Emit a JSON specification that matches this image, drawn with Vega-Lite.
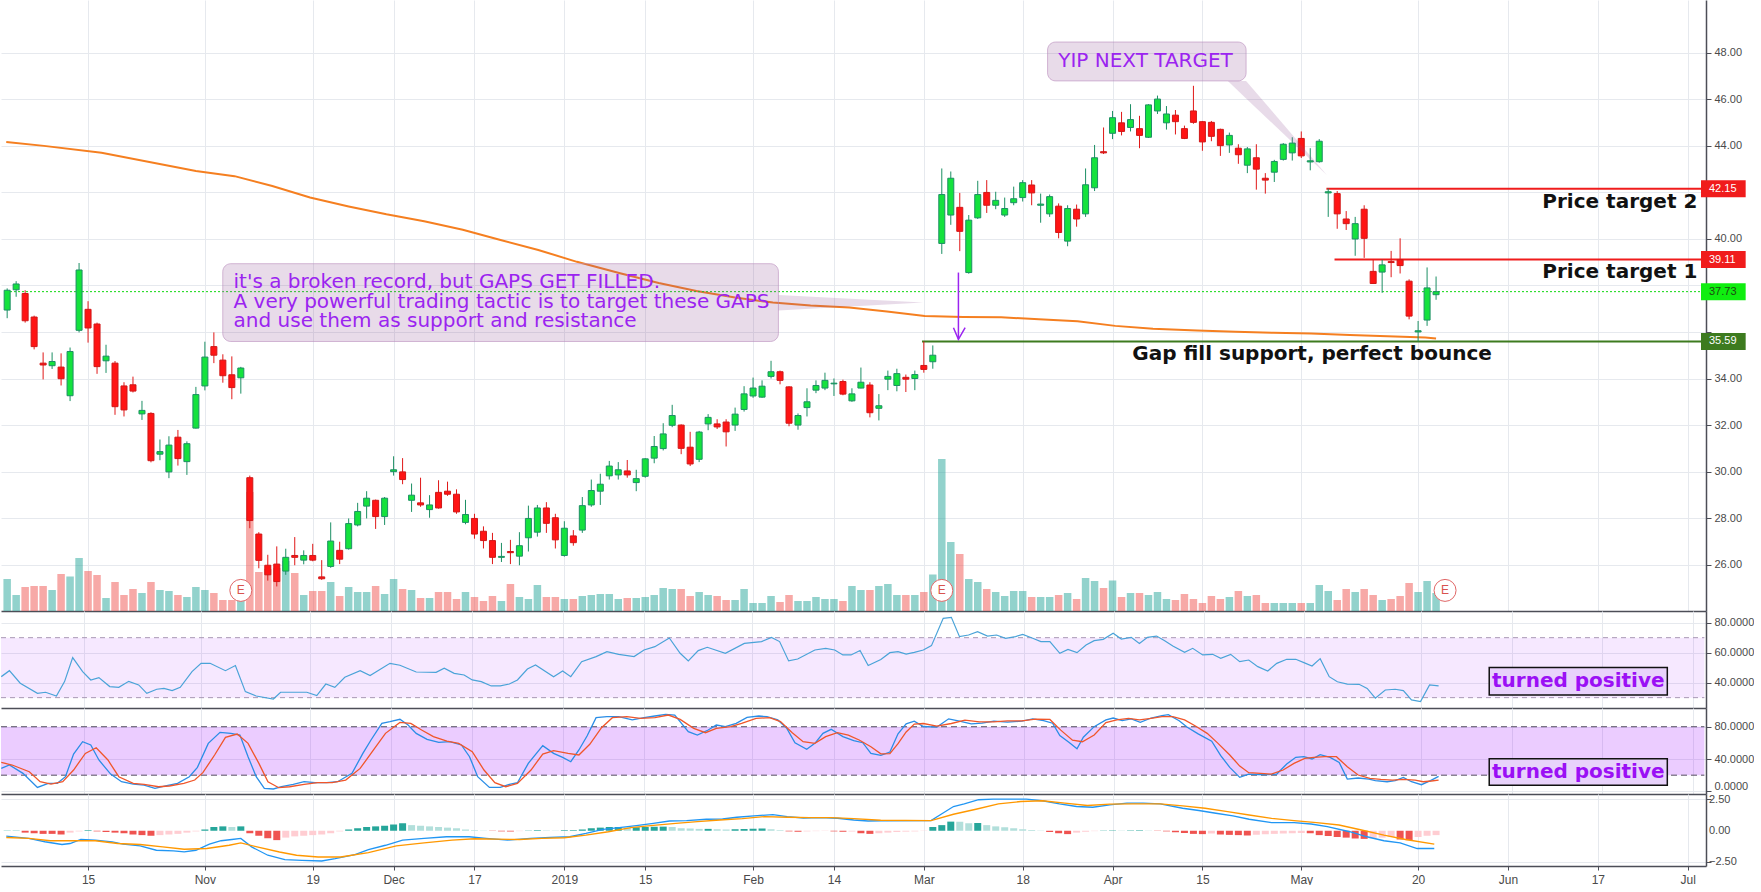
{
"$schema":"https://vega.github.io/schema/vega-lite/v6.json",
"background":"#ffffff",
"padding":0,
"spacing":0,
"bounds":"flush",
"config":{"view":{"stroke":null},"axis":{"labelFont":"Liberation Sans","labelFontSize":11,"labelColor":"#4a4a4a","tickColor":"#4c4e57","domainColor":"#4c4e57","gridColor":"#e6e9ee"},"text":{"font":"DejaVu Sans"}},
"resolve":{"scale":{"x":"independent","y":"independent","color":"independent"}},
"datasets":{
"ohlc":[
{"i":-9,"o":36.94,"h":37.87,"l":36.59,"c":37.79,"v":3.2,"m":0.02},
{"i":-8,"o":37.81,"h":38.18,"l":37.51,"c":38.06,"v":1.6,"m":0.02},
{"i":-7,"o":37.65,"h":37.79,"l":36.4,"c":36.48,"v":2.4,"m":-0.15},
{"i":-6,"o":36.64,"h":36.7,"l":35.25,"c":35.37,"v":2.5,"m":-0.2},
{"i":-5,"o":34.66,"h":35.12,"l":33.96,"c":34.58,"v":2.5,"m":-0.25},
{"i":-4,"o":34.55,"h":35.12,"l":34.41,"c":34.73,"v":2.1,"m":-0.25},
{"i":-3,"o":34.49,"h":35.08,"l":33.7,"c":33.99,"v":3.7,"m":-0.3},
{"i":-2,"o":33.26,"h":35.33,"l":33.03,"c":35.16,"v":3.45,"m":-0.15},
{"i":-1,"o":36.07,"h":38.96,"l":35.98,"c":38.66,"v":5.3,"m":-0.05},
{"i":0,"o":36.97,"h":37.32,"l":35.54,"c":36.17,"v":4.0,"m":0.05},
{"i":1,"o":36.34,"h":36.4,"l":34.2,"c":34.51,"v":3.6,"m":-0.05},
{"i":2,"o":34.76,"h":35.45,"l":34.24,"c":34.96,"v":1.3,"m":-0.1},
{"i":3,"o":34.66,"h":34.75,"l":32.44,"c":32.79,"v":2.9,"m":-0.15},
{"i":4,"o":33.68,"h":33.84,"l":32.37,"c":32.65,"v":1.6,"m":-0.2},
{"i":5,"o":33.73,"h":34.08,"l":33.4,"c":33.46,"v":2.2,"m":-0.3},
{"i":6,"o":32.48,"h":33.04,"l":32.22,"c":32.63,"v":1.8,"m":-0.35},
{"i":7,"o":32.5,"h":32.55,"l":30.4,"c":30.47,"v":2.9,"m":-0.4},
{"i":8,"o":30.75,"h":31.38,"l":30.49,"c":30.86,"v":2.1,"m":-0.35},
{"i":9,"o":29.99,"h":31.52,"l":29.72,"c":31.14,"v":2.0,"m":-0.3},
{"i":10,"o":31.48,"h":31.79,"l":30.26,"c":30.56,"v":1.6,"m":-0.25},
{"i":11,"o":30.43,"h":31.3,"l":29.86,"c":31.2,"v":1.4,"m":-0.15},
{"i":12,"o":31.87,"h":33.64,"l":31.85,"c":33.31,"v":2.4,"m":-0.05},
{"i":13,"o":33.68,"h":35.58,"l":33.49,"c":34.92,"v":2.1,"m":0.1},
{"i":14,"o":35.37,"h":35.98,"l":34.66,"c":35.0,"v":1.8,"m":0.3},
{"i":15,"o":34.79,"h":35.04,"l":33.82,"c":34.12,"v":1.1,"m":0.35},
{"i":16,"o":34.16,"h":34.95,"l":33.11,"c":33.61,"v":1.1,"m":0.3},
{"i":17,"o":34.03,"h":34.5,"l":33.35,"c":34.45,"v":2.2,"m":0.35},
{"i":18,"o":29.74,"h":29.83,"l":27.57,"c":27.9,"v":11.9,"m":-0.2},
{"i":19,"o":27.32,"h":27.4,"l":25.85,"c":26.19,"v":3.9,"m":-0.4},
{"i":20,"o":25.98,"h":26.43,"l":25.32,"c":25.57,"v":4.2,"m":-0.6},
{"i":21,"o":26.03,"h":26.79,"l":25.07,"c":25.28,"v":4.3,"m":-0.75},
{"i":22,"o":25.73,"h":26.69,"l":25.57,"c":26.32,"v":5.0,"m":-0.55},
{"i":23,"o":26.4,"h":27.19,"l":25.98,"c":26.32,"v":3.8,"m":-0.45},
{"i":24,"o":26.2,"h":26.62,"l":26.02,"c":26.4,"v":1.6,"m":-0.4},
{"i":25,"o":26.4,"h":26.9,"l":26.15,"c":26.2,"v":2.0,"m":-0.35},
{"i":26,"o":25.48,"h":26.2,"l":25.35,"c":25.4,"v":2.0,"m":-0.3},
{"i":27,"o":25.93,"h":27.82,"l":25.87,"c":27.02,"v":2.9,"m":-0.2},
{"i":28,"o":26.62,"h":26.99,"l":26.03,"c":26.24,"v":1.5,"m":-0.05},
{"i":29,"o":26.69,"h":27.99,"l":26.65,"c":27.77,"v":2.4,"m":0.1},
{"i":30,"o":27.71,"h":28.66,"l":27.65,"c":28.29,"v":1.9,"m":0.2},
{"i":31,"o":28.52,"h":29.16,"l":27.99,"c":28.86,"v":1.9,"m":0.3},
{"i":32,"o":28.77,"h":28.8,"l":27.54,"c":28.07,"v":2.5,"m":0.35},
{"i":33,"o":28.07,"h":28.91,"l":27.71,"c":28.86,"v":1.7,"m":0.4},
{"i":34,"o":30.0,"h":30.66,"l":29.83,"c":30.08,"v":3.2,"m":0.5},
{"i":35,"o":29.99,"h":30.58,"l":29.46,"c":29.66,"v":2.2,"m":0.6},
{"i":36,"o":28.77,"h":29.49,"l":28.27,"c":28.99,"v":2.1,"m":0.45},
{"i":37,"o":28.66,"h":29.74,"l":28.49,"c":28.57,"v":1.3,"m":0.4},
{"i":38,"o":28.37,"h":28.99,"l":28.02,"c":28.57,"v":1.3,"m":0.35},
{"i":39,"o":29.11,"h":29.63,"l":28.41,"c":28.44,"v":1.9,"m":0.3},
{"i":40,"o":29.16,"h":29.57,"l":28.96,"c":29.03,"v":1.9,"m":0.25},
{"i":41,"o":29.03,"h":29.24,"l":28.19,"c":28.27,"v":1.2,"m":0.2},
{"i":42,"o":27.82,"h":28.79,"l":27.74,"c":28.16,"v":1.9,"m":0.1},
{"i":43,"o":27.99,"h":28.19,"l":27.12,"c":27.32,"v":1.4,"m":0.05},
{"i":44,"o":27.44,"h":27.65,"l":26.7,"c":27.04,"v":1.0,"m":0.02},
{"i":45,"o":27.04,"h":27.37,"l":26.03,"c":26.32,"v":1.5,"m":-0.02},
{"i":46,"o":26.32,"h":26.94,"l":26.12,"c":26.36,"v":1.0,"m":-0.05},
{"i":47,"o":26.57,"h":27.07,"l":26.03,"c":26.52,"v":2.7,"m":-0.05},
{"i":48,"o":26.37,"h":27.4,"l":25.98,"c":26.82,"v":1.4,"m":-0.03},
{"i":49,"o":27.16,"h":28.54,"l":26.57,"c":27.99,"v":1.2,"m":0.02},
{"i":50,"o":27.4,"h":28.57,"l":27.21,"c":28.44,"v":2.6,"m":0.05},
{"i":51,"o":28.44,"h":28.69,"l":27.37,"c":27.78,"v":1.4,"m":0.03},
{"i":52,"o":28.02,"h":28.19,"l":26.7,"c":27.07,"v":1.4,"m":0.02},
{"i":53,"o":26.4,"h":27.87,"l":26.35,"c":27.57,"v":1.2,"m":0.05},
{"i":54,"o":27.24,"h":27.49,"l":26.82,"c":26.95,"v":1.2,"m":0.05},
{"i":55,"o":27.49,"h":28.91,"l":27.37,"c":28.54,"v":1.5,"m":0.1},
{"i":56,"o":28.57,"h":29.66,"l":28.49,"c":29.19,"v":1.6,"m":0.2},
{"i":57,"o":29.16,"h":29.91,"l":28.57,"c":29.46,"v":1.7,"m":0.25},
{"i":58,"o":29.82,"h":30.46,"l":29.66,"c":30.24,"v":1.7,"m":0.3},
{"i":59,"o":29.86,"h":30.41,"l":29.66,"c":30.08,"v":1.2,"m":0.3},
{"i":60,"o":30.03,"h":30.5,"l":29.74,"c":29.86,"v":1.3,"m":0.25},
{"i":61,"o":29.53,"h":30.08,"l":29.16,"c":29.7,"v":1.3,"m":0.28},
{"i":62,"o":29.8,"h":30.58,"l":29.74,"c":30.55,"v":1.4,"m":0.3},
{"i":63,"o":30.58,"h":31.53,"l":30.36,"c":31.08,"v":1.6,"m":0.32},
{"i":64,"o":30.99,"h":32.08,"l":30.91,"c":31.62,"v":2.3,"m":0.33},
{"i":65,"o":31.99,"h":32.87,"l":31.91,"c":32.41,"v":2.2,"m":0.3},
{"i":66,"o":32.0,"h":32.03,"l":30.75,"c":31.0,"v":2.2,"m":0.2},
{"i":67,"o":31.05,"h":31.71,"l":30.24,"c":30.33,"v":1.5,"m":0.18},
{"i":68,"o":30.53,"h":31.75,"l":30.41,"c":31.7,"v":1.9,"m":0.15},
{"i":69,"o":32.05,"h":32.47,"l":31.78,"c":32.33,"v":1.6,"m":0.15},
{"i":70,"o":32.05,"h":32.25,"l":31.83,"c":31.92,"v":1.5,"m":0.12},
{"i":71,"o":32.13,"h":32.25,"l":31.08,"c":31.71,"v":1.1,"m":0.1},
{"i":72,"o":32.0,"h":32.75,"l":31.75,"c":32.47,"v":1.1,"m":0.12},
{"i":73,"o":32.67,"h":33.67,"l":32.58,"c":33.34,"v":2.2,"m":0.14},
{"i":74,"o":33.25,"h":34.04,"l":33.17,"c":33.59,"v":0.8,"m":0.16},
{"i":75,"o":33.2,"h":33.92,"l":33.17,"c":33.67,"v":0.8,"m":0.18},
{"i":76,"o":34.09,"h":34.76,"l":34.0,"c":34.29,"v":1.5,"m":0.12},
{"i":77,"o":34.29,"h":34.34,"l":33.75,"c":33.92,"v":0.9,"m":0.05},
{"i":78,"o":33.64,"h":33.67,"l":31.95,"c":32.08,"v":1.6,"m":-0.05},
{"i":79,"o":32.0,"h":32.5,"l":31.8,"c":32.41,"v":1.0,"m":-0.08},
{"i":80,"o":32.75,"h":33.58,"l":32.37,"c":33.0,"v":1.0,"m":-0.05},
{"i":81,"o":33.5,"h":33.92,"l":33.37,"c":33.7,"v":1.4,"m":-0.03},
{"i":82,"o":33.59,"h":34.25,"l":33.5,"c":33.92,"v":1.2,"m":-0.02},
{"i":83,"o":33.77,"h":34.0,"l":33.25,"c":33.8,"v":1.2,"m":-0.05},
{"i":84,"o":33.87,"h":33.95,"l":33.28,"c":33.33,"v":1.0,"m":-0.08},
{"i":85,"o":33.04,"h":33.58,"l":33.0,"c":33.34,"v":2.5,"m":-0.06},
{"i":86,"o":33.59,"h":34.47,"l":33.58,"c":33.84,"v":2.1,"m":-0.2},
{"i":87,"o":33.72,"h":33.84,"l":32.33,"c":32.53,"v":2.1,"m":-0.25},
{"i":88,"o":32.72,"h":33.33,"l":32.2,"c":32.83,"v":2.5,"m":-0.2},
{"i":89,"o":33.97,"h":34.34,"l":33.5,"c":34.09,"v":2.7,"m":-0.15},
{"i":90,"o":33.7,"h":34.42,"l":33.45,"c":34.21,"v":1.6,"m":-0.1},
{"i":91,"o":34.05,"h":34.17,"l":33.42,"c":33.97,"v":1.6,"m":-0.07},
{"i":92,"o":34.0,"h":34.34,"l":33.5,"c":34.17,"v":1.6,"m":-0.05},
{"i":93,"o":34.56,"h":35.59,"l":34.25,"c":34.39,"v":1.9,"m":-0.02},
{"i":94,"o":34.72,"h":35.42,"l":34.42,"c":35.0,"v":3.65,"m":0.3},
{"i":95,"o":39.8,"h":43.02,"l":39.35,"c":41.9,"v":15.2,"m":0.45},
{"i":96,"o":41.02,"h":42.89,"l":40.6,"c":42.6,"v":6.9,"m":0.73},
{"i":97,"o":41.35,"h":41.97,"l":39.47,"c":40.32,"v":5.7,"m":0.72},
{"i":98,"o":38.55,"h":41.02,"l":38.5,"c":40.8,"v":3.2,"m":0.6},
{"i":99,"o":40.9,"h":42.49,"l":40.85,"c":41.9,"v":2.9,"m":0.62},
{"i":100,"o":41.99,"h":42.52,"l":41.11,"c":41.44,"v":2.2,"m":0.45},
{"i":101,"o":41.44,"h":42.02,"l":41.27,"c":41.65,"v":1.9,"m":0.35},
{"i":102,"o":41.02,"h":41.77,"l":40.94,"c":41.3,"v":1.5,"m":0.28},
{"i":103,"o":41.55,"h":42.24,"l":41.44,"c":41.72,"v":2.0,"m":0.2},
{"i":104,"o":41.77,"h":42.52,"l":41.6,"c":42.41,"v":2.0,"m":0.12},
{"i":105,"o":42.31,"h":42.52,"l":41.44,"c":41.97,"v":1.4,"m":0.06},
{"i":106,"o":41.44,"h":41.94,"l":40.69,"c":41.49,"v":1.4,"m":0.02},
{"i":107,"o":41.07,"h":41.9,"l":40.94,"c":41.81,"v":1.4,"m":-0.1},
{"i":108,"o":41.4,"h":41.52,"l":40.02,"c":40.27,"v":1.6,"m":-0.2},
{"i":109,"o":39.9,"h":41.44,"l":39.68,"c":41.3,"v":1.8,"m":-0.27},
{"i":110,"o":41.27,"h":41.47,"l":40.52,"c":40.85,"v":1.2,"m":-0.15},
{"i":111,"o":41.07,"h":43.02,"l":40.94,"c":42.32,"v":3.3,"m":-0.08},
{"i":112,"o":42.19,"h":44.03,"l":42.05,"c":43.48,"v":3.0,"m":-0.03},
{"i":113,"o":43.74,"h":44.78,"l":43.64,"c":43.69,"v":2.3,"m":0.02},
{"i":114,"o":44.53,"h":45.49,"l":44.28,"c":45.2,"v":3.05,"m":0.03},
{"i":115,"o":44.98,"h":45.45,"l":44.44,"c":44.61,"v":1.4,"m":0.02},
{"i":116,"o":44.78,"h":45.78,"l":44.61,"c":45.12,"v":1.8,"m":0.03},
{"i":117,"o":44.73,"h":45.28,"l":43.89,"c":44.44,"v":1.8,"m":0.04},
{"i":118,"o":44.36,"h":45.78,"l":44.33,"c":45.75,"v":1.6,"m":0.02},
{"i":119,"o":45.49,"h":46.15,"l":45.36,"c":46.0,"v":1.9,"m":-0.02},
{"i":120,"o":44.98,"h":45.7,"l":44.69,"c":45.36,"v":1.2,"m":-0.05},
{"i":121,"o":45.31,"h":45.53,"l":44.48,"c":45.03,"v":1.1,"m":-0.12},
{"i":122,"o":44.73,"h":44.86,"l":44.28,"c":44.31,"v":1.7,"m":-0.18},
{"i":123,"o":45.49,"h":46.57,"l":44.94,"c":45.0,"v":1.2,"m":-0.25},
{"i":124,"o":45.03,"h":45.06,"l":43.78,"c":44.16,"v":0.8,"m":-0.27},
{"i":125,"o":45.0,"h":45.06,"l":44.19,"c":44.4,"v":1.5,"m":-0.22},
{"i":126,"o":44.7,"h":44.73,"l":43.56,"c":44.0,"v":1.2,"m":-0.3},
{"i":127,"o":44.03,"h":44.56,"l":43.69,"c":44.44,"v":1.4,"m":-0.33},
{"i":128,"o":43.89,"h":44.06,"l":43.22,"c":43.61,"v":2.0,"m":-0.35},
{"i":129,"o":43.16,"h":43.94,"l":42.82,"c":43.86,"v":1.5,"m":-0.38},
{"i":130,"o":43.48,"h":44.06,"l":42.11,"c":42.99,"v":1.6,"m":-0.32},
{"i":131,"o":42.6,"h":42.82,"l":41.94,"c":42.52,"v":0.8,"m":-0.28},
{"i":132,"o":42.86,"h":43.39,"l":42.44,"c":43.32,"v":0.8,"m":-0.25},
{"i":133,"o":43.41,"h":44.11,"l":43.36,"c":44.06,"v":0.8,"m":-0.22},
{"i":134,"o":43.69,"h":44.36,"l":43.36,"c":44.11,"v":0.8,"m":-0.2},
{"i":135,"o":44.31,"h":44.61,"l":43.47,"c":43.56,"v":0.8,"m":-0.18},
{"i":136,"o":43.3,"h":43.89,"l":42.94,"c":43.35,"v":0.8,"m":-0.2},
{"i":137,"o":43.31,"h":44.28,"l":43.27,"c":44.19,"v":2.6,"m":-0.35},
{"i":138,"o":41.97,"h":42.16,"l":40.94,"c":42.02,"v":2.0,"m":-0.42},
{"i":139,"o":41.94,"h":42.05,"l":40.43,"c":41.07,"v":1.1,"m":-0.5},
{"i":140,"o":40.85,"h":41.19,"l":40.38,"c":40.65,"v":2.2,"m":-0.55},
{"i":141,"o":39.99,"h":40.94,"l":39.27,"c":40.65,"v":1.9,"m":-0.62},
{"i":142,"o":41.27,"h":41.44,"l":39.18,"c":40.02,"v":2.2,"m":-0.65},
{"i":143,"o":38.6,"h":39.1,"l":38.08,"c":38.08,"v":1.6,"m":-0.6},
{"i":144,"o":38.57,"h":39.1,"l":37.68,"c":38.88,"v":1.1,"m":-0.55},
{"i":145,"o":39.02,"h":39.48,"l":38.35,"c":38.98,"v":1.2,"m":-0.5},
{"i":146,"o":39.1,"h":40.02,"l":38.51,"c":38.85,"v":1.5,"m":-0.7},
{"i":147,"o":38.18,"h":38.26,"l":36.54,"c":36.68,"v":2.8,"m":-0.75},
{"i":148,"o":36.0,"h":36.47,"l":35.59,"c":36.05,"v":1.9,"m":-0.5},
{"i":149,"o":36.51,"h":38.77,"l":36.26,"c":37.89,"v":3.0,"m":-0.4},
{"i":150,"o":37.6,"h":38.38,"l":37.38,"c":37.73,"v":1.8,"m":-0.35}
],
"ma":[
{"i":-9.1,"p":44.16},{"i":-4.9,"p":43.99},{"i":1.5,"p":43.69},{"i":12.0,"p":42.91},{"i":16.3,"p":42.69},{"i":20.5,"p":42.27},{"i":24.7,"p":41.77},{"i":29.0,"p":41.39},{"i":33.2,"p":41.05},{"i":37.4,"p":40.75},{"i":41.7,"p":40.39},{"i":45.9,"p":39.95},{"i":50.1,"p":39.52},{"i":54.4,"p":39.01},{"i":59.2,"p":38.52},{"i":63.5,"p":38.1},{"i":67.7,"p":37.76},{"i":72.0,"p":37.48},{"i":76.2,"p":37.26},{"i":80.4,"p":37.13},{"i":84.7,"p":37.05},{"i":88.9,"p":36.88},{"i":93.1,"p":36.68},{"i":97.4,"p":36.64},{"i":101.6,"p":36.63},{"i":105.8,"p":36.54},{"i":110.1,"p":36.46},{"i":114.3,"p":36.26},{"i":118.5,"p":36.14},{"i":123.4,"p":36.06},{"i":127.7,"p":36.01},{"i":131.9,"p":35.96},{"i":136.1,"p":35.93},{"i":140.4,"p":35.87},{"i":144.6,"p":35.81},{"i":148.8,"p":35.76},{"i":150.0,"p":35.72}
],
"levels":[
{"i":-9.13,"i2":179.48,"p":37.73,"k":"g"},
{"i":137.8,"i2":179.48,"p":42.15,"k":"r"},
{"i":138.7,"i2":179.48,"p":39.11,"k":"r"},
{"i":92.8,"i2":179.48,"p":35.59,"k":"d"}
],
"tags":[
{"i":179.48,"i2":184.45,"p":42.15,"t":"42.15","k":"r"},
{"i":179.48,"i2":184.45,"p":39.11,"t":"39.11","k":"r"},
{"i":179.48,"i2":184.45,"p":37.73,"t":"37.73","k":"g"},
{"i":179.48,"i2":184.45,"p":35.59,"t":"35.59","k":"d"}
],
"rsi":[
{"i":-9.1,"v":44.0},{"i":-8.2,"v":48.0},{"i":-7.0,"v":39.6},{"i":-5.1,"v":32.9},{"i":-4.2,"v":33.6},{"i":-3.0,"v":31.1},{"i":-2.1,"v":40.7},{"i":-1.2,"v":56.7},{"i":-0.1,"v":47.4},{"i":0.8,"v":41.8},{"i":1.7,"v":43.4},{"i":2.9,"v":37.4},{"i":3.9,"v":36.9},{"i":5.0,"v":40.9},{"i":6.1,"v":38.5},{"i":7.0,"v":32.9},{"i":8.1,"v":35.6},{"i":8.9,"v":36.2},{"i":9.8,"v":34.7},{"i":10.7,"v":36.9},{"i":12.0,"v":47.4},{"i":13.0,"v":52.9},{"i":14.0,"v":52.9},{"i":15.7,"v":48.0},{"i":16.8,"v":51.4},{"i":17.9,"v":34.0},{"i":19.1,"v":31.1},{"i":21.0,"v":29.1},{"i":21.8,"v":33.6},{"i":24.7,"v":33.6},{"i":25.8,"v":31.4},{"i":26.8,"v":39.1},{"i":27.8,"v":36.9},{"i":28.9,"v":43.6},{"i":30.6,"v":48.0},{"i":31.7,"v":44.7},{"i":33.9,"v":52.9},{"i":35.0,"v":51.6},{"i":36.8,"v":47.1},{"i":39.0,"v":46.9},{"i":39.9,"v":49.6},{"i":41.0,"v":46.2},{"i":42.1,"v":45.1},{"i":43.0,"v":41.8},{"i":44.0,"v":40.7},{"i":45.1,"v":37.8},{"i":46.1,"v":37.8},{"i":47.1,"v":39.1},{"i":48.0,"v":41.8},{"i":49.1,"v":49.1},{"i":50.0,"v":51.8},{"i":52.0,"v":44.0},{"i":53.0,"v":47.8},{"i":53.9,"v":44.0},{"i":55.1,"v":54.0},{"i":56.7,"v":57.4},{"i":57.9,"v":60.7},{"i":59.2,"v":58.9},{"i":60.9,"v":57.4},{"i":62.0,"v":61.8},{"i":63.2,"v":64.0},{"i":64.8,"v":69.8},{"i":66.0,"v":59.6},{"i":66.9,"v":54.5},{"i":68.0,"v":61.4},{"i":69.0,"v":63.6},{"i":71.0,"v":59.6},{"i":73.1,"v":66.2},{"i":75.0,"v":67.4},{"i":76.1,"v":70.2},{"i":77.0,"v":67.4},{"i":78.0,"v":54.5},{"i":79.0,"v":55.8},{"i":80.9,"v":61.8},{"i":82.1,"v":62.9},{"i":83.1,"v":61.8},{"i":84.0,"v":58.5},{"i":84.9,"v":58.5},{"i":85.9,"v":61.4},{"i":86.8,"v":51.4},{"i":88.2,"v":55.5},{"i":89.2,"v":60.0},{"i":90.1,"v":60.7},{"i":91.0,"v":59.1},{"i":91.9,"v":60.2},{"i":92.9,"v":61.8},{"i":93.8,"v":64.7},{"i":95.1,"v":82.9},{"i":96.0,"v":83.6},{"i":96.9,"v":70.7},{"i":97.9,"v":71.8},{"i":98.9,"v":74.0},{"i":100.0,"v":71.1},{"i":101.0,"v":71.8},{"i":102.0,"v":69.6},{"i":103.1,"v":70.7},{"i":103.9,"v":72.2},{"i":105.0,"v":69.6},{"i":105.9,"v":67.4},{"i":106.9,"v":67.4},{"i":108.0,"v":59.6},{"i":108.9,"v":62.2},{"i":109.9,"v":60.0},{"i":110.9,"v":65.1},{"i":111.8,"v":68.0},{"i":112.8,"v":68.9},{"i":113.9,"v":72.9},{"i":114.8,"v":69.1},{"i":115.9,"v":70.2},{"i":116.8,"v":66.2},{"i":117.7,"v":70.2},{"i":118.7,"v":71.1},{"i":119.6,"v":68.0},{"i":120.5,"v":64.5},{"i":121.8,"v":60.2},{"i":122.7,"v":62.9},{"i":123.8,"v":58.5},{"i":124.9,"v":58.9},{"i":125.8,"v":56.2},{"i":126.9,"v":58.9},{"i":127.9,"v":54.0},{"i":128.9,"v":55.1},{"i":129.9,"v":50.7},{"i":131.0,"v":47.8},{"i":132.0,"v":52.9},{"i":133.1,"v":55.6},{"i":134.1,"v":55.6},{"i":135.0,"v":53.4},{"i":135.9,"v":51.1},{"i":136.8,"v":56.0},{"i":137.8,"v":44.0},{"i":138.7,"v":40.6},{"i":139.8,"v":39.0},{"i":141.1,"v":38.9},{"i":142.0,"v":36.2},{"i":142.9,"v":29.6},{"i":144.0,"v":35.1},{"i":145.1,"v":35.6},{"i":146.0,"v":34.7},{"i":146.9,"v":28.5},{"i":147.9,"v":27.4},{"i":148.9,"v":38.5},{"i":149.9,"v":37.8}
],
"stoch":[
{"s":"K","i":-9.1,"v":28.4},{"s":"K","i":-8.2,"v":32.6},{"s":"K","i":-6.7,"v":22.3},{"s":"K","i":-5.1,"v":4.9},{"s":"K","i":-3.9,"v":9.9},{"s":"K","i":-2.9,"v":9.9},{"s":"K","i":-2.0,"v":18.2},{"s":"K","i":-1.1,"v":46.2},{"s":"K","i":-0.1,"v":61.5},{"s":"K","i":0.8,"v":57.4},{"s":"K","i":1.7,"v":38.8},{"s":"K","i":3.0,"v":21.4},{"s":"K","i":4.2,"v":11.9},{"s":"K","i":5.5,"v":9.0},{"s":"K","i":6.7,"v":7.8},{"s":"K","i":7.9,"v":3.7},{"s":"K","i":9.2,"v":7.0},{"s":"K","i":10.4,"v":9.9},{"s":"K","i":11.7,"v":18.1},{"s":"K","i":12.6,"v":29.7},{"s":"K","i":13.8,"v":59.4},{"s":"K","i":15.1,"v":73.1},{"s":"K","i":16.3,"v":71.8},{"s":"K","i":17.3,"v":69.7},{"s":"K","i":18.2,"v":42.9},{"s":"K","i":19.1,"v":18.1},{"s":"K","i":20.0,"v":3.7},{"s":"K","i":21.0,"v":2.9},{"s":"K","i":21.9,"v":5.7},{"s":"K","i":23.2,"v":8.6},{"s":"K","i":24.4,"v":11.9},{"s":"K","i":25.6,"v":10.7},{"s":"K","i":26.9,"v":10.7},{"s":"K","i":28.1,"v":11.9},{"s":"K","i":29.7,"v":22.3},{"s":"K","i":30.9,"v":47.0},{"s":"K","i":31.8,"v":63.6},{"s":"K","i":33.0,"v":84.2},{"s":"K","i":33.9,"v":86.3},{"s":"K","i":35.0,"v":89.2},{"s":"K","i":35.9,"v":82.2},{"s":"K","i":36.8,"v":71.8},{"s":"K","i":38.0,"v":64.4},{"s":"K","i":39.3,"v":60.6},{"s":"K","i":40.5,"v":61.5},{"s":"K","i":41.8,"v":57.4},{"s":"K","i":42.7,"v":42.9},{"s":"K","i":43.6,"v":18.1},{"s":"K","i":44.9,"v":4.9},{"s":"K","i":46.1,"v":4.9},{"s":"K","i":47.1,"v":8.6},{"s":"K","i":48.0,"v":10.7},{"s":"K","i":49.2,"v":34.6},{"s":"K","i":50.8,"v":56.5},{"s":"K","i":52.0,"v":47.0},{"s":"K","i":53.0,"v":42.1},{"s":"K","i":53.9,"v":36.7},{"s":"K","i":54.8,"v":51.2},{"s":"K","i":55.7,"v":68.5},{"s":"K","i":56.7,"v":91.2},{"s":"K","i":57.9,"v":92.4},{"s":"K","i":59.2,"v":92.4},{"s":"K","i":60.7,"v":88.4},{"s":"K","i":62.0,"v":91.2},{"s":"K","i":63.2,"v":93.3},{"s":"K","i":64.4,"v":95.4},{"s":"K","i":65.4,"v":94.5},{"s":"K","i":66.9,"v":73.9},{"s":"K","i":67.9,"v":69.7},{"s":"K","i":69.1,"v":75.9},{"s":"K","i":70.0,"v":82.1},{"s":"K","i":71.0,"v":80.1},{"s":"K","i":72.2,"v":84.2},{"s":"K","i":73.4,"v":91.6},{"s":"K","i":74.7,"v":93.3},{"s":"K","i":75.6,"v":92.4},{"s":"K","i":76.8,"v":88.4},{"s":"K","i":77.8,"v":78.0},{"s":"K","i":78.7,"v":60.2},{"s":"K","i":80.0,"v":52.0},{"s":"K","i":80.9,"v":59.4},{"s":"K","i":81.8,"v":71.8},{"s":"K","i":82.7,"v":76.8},{"s":"K","i":84.0,"v":67.7},{"s":"K","i":85.2,"v":62.7},{"s":"K","i":86.2,"v":60.2},{"s":"K","i":87.1,"v":47.0},{"s":"K","i":88.2,"v":44.5},{"s":"K","i":89.2,"v":48.6},{"s":"K","i":90.1,"v":71.3},{"s":"K","i":91.0,"v":83.6},{"s":"K","i":91.9,"v":86.9},{"s":"K","i":92.9,"v":80.3},{"s":"K","i":94.4,"v":79.5},{"s":"K","i":95.7,"v":89.8},{"s":"K","i":96.9,"v":86.9},{"s":"K","i":98.2,"v":83.6},{"s":"K","i":99.4,"v":84.4},{"s":"K","i":100.7,"v":86.9},{"s":"K","i":102.2,"v":85.7},{"s":"K","i":103.8,"v":86.9},{"s":"K","i":105.0,"v":89.8},{"s":"K","i":106.2,"v":87.7},{"s":"K","i":107.2,"v":84.4},{"s":"K","i":108.0,"v":69.1},{"s":"K","i":109.0,"v":60.8},{"s":"K","i":109.9,"v":52.6},{"s":"K","i":110.6,"v":67.0},{"s":"K","i":111.8,"v":80.1},{"s":"K","i":113.1,"v":88.4},{"s":"K","i":113.9,"v":90.8},{"s":"K","i":114.9,"v":87.5},{"s":"K","i":115.9,"v":89.6},{"s":"K","i":116.9,"v":85.5},{"s":"K","i":118.1,"v":90.8},{"s":"K","i":119.3,"v":93.7},{"s":"K","i":120.0,"v":95.0},{"s":"K","i":121.2,"v":87.5},{"s":"K","i":122.1,"v":79.3},{"s":"K","i":123.3,"v":71.1},{"s":"K","i":124.8,"v":62.0},{"s":"K","i":125.8,"v":44.2},{"s":"K","i":126.8,"v":29.7},{"s":"K","i":127.9,"v":17.3},{"s":"K","i":128.9,"v":21.4},{"s":"K","i":130.0,"v":20.6},{"s":"K","i":131.1,"v":20.6},{"s":"K","i":132.0,"v":21.4},{"s":"K","i":133.1,"v":33.8},{"s":"K","i":134.1,"v":42.1},{"s":"K","i":135.0,"v":43.0},{"s":"K","i":135.9,"v":40.1},{"s":"K","i":136.8,"v":45.4},{"s":"K","i":137.9,"v":42.1},{"s":"K","i":138.9,"v":35.9},{"s":"K","i":139.8,"v":15.2},{"s":"K","i":141.0,"v":16.5},{"s":"K","i":142.2,"v":15.2},{"s":"K","i":142.9,"v":13.2},{"s":"K","i":144.2,"v":11.9},{"s":"K","i":145.1,"v":13.2},{"s":"K","i":146.0,"v":17.3},{"s":"K","i":146.9,"v":11.9},{"s":"K","i":148.0,"v":8.2},{"s":"K","i":149.0,"v":13.2},{"s":"K","i":149.9,"v":18.5},
{"s":"D","i":-9.1,"v":35.8},{"s":"D","i":-7.9,"v":32.6},{"s":"D","i":-6.0,"v":24.3},{"s":"D","i":-4.8,"v":11.9},{"s":"D","i":-3.6,"v":9.0},{"s":"D","i":-2.3,"v":11.9},{"s":"D","i":-1.1,"v":26.4},{"s":"D","i":0.2,"v":47.0},{"s":"D","i":1.4,"v":54.0},{"s":"D","i":2.7,"v":38.8},{"s":"D","i":3.9,"v":18.1},{"s":"D","i":5.5,"v":9.9},{"s":"D","i":6.7,"v":8.6},{"s":"D","i":8.3,"v":5.7},{"s":"D","i":9.5,"v":6.6},{"s":"D","i":11.1,"v":9.9},{"s":"D","i":12.3,"v":14.0},{"s":"D","i":13.2,"v":23.1},{"s":"D","i":14.5,"v":45.0},{"s":"D","i":15.7,"v":66.9},{"s":"D","i":17.0,"v":71.0},{"s":"D","i":18.2,"v":59.4},{"s":"D","i":19.4,"v":34.6},{"s":"D","i":20.4,"v":11.9},{"s":"D","i":21.6,"v":4.5},{"s":"D","i":22.8,"v":5.7},{"s":"D","i":24.4,"v":8.6},{"s":"D","i":25.9,"v":10.7},{"s":"D","i":27.5,"v":10.7},{"s":"D","i":29.0,"v":14.0},{"s":"D","i":30.6,"v":28.4},{"s":"D","i":31.8,"v":47.0},{"s":"D","i":33.4,"v":71.8},{"s":"D","i":35.0,"v":85.4},{"s":"D","i":36.2,"v":84.2},{"s":"D","i":37.4,"v":76.0},{"s":"D","i":38.7,"v":67.7},{"s":"D","i":40.2,"v":62.3},{"s":"D","i":41.5,"v":59.4},{"s":"D","i":43.0,"v":49.1},{"s":"D","i":44.3,"v":26.4},{"s":"D","i":45.5,"v":10.7},{"s":"D","i":46.7,"v":5.7},{"s":"D","i":48.0,"v":9.9},{"s":"D","i":49.5,"v":26.4},{"s":"D","i":50.8,"v":46.2},{"s":"D","i":52.0,"v":50.3},{"s":"D","i":53.6,"v":47.0},{"s":"D","i":54.8,"v":45.0},{"s":"D","i":56.0,"v":58.2},{"s":"D","i":57.3,"v":78.8},{"s":"D","i":58.5,"v":91.2},{"s":"D","i":60.1,"v":92.4},{"s":"D","i":61.6,"v":90.4},{"s":"D","i":63.2,"v":91.2},{"s":"D","i":64.7,"v":94.5},{"s":"D","i":66.0,"v":89.1},{"s":"D","i":67.5,"v":78.0},{"s":"D","i":68.8,"v":72.6},{"s":"D","i":70.0,"v":78.0},{"s":"D","i":71.6,"v":80.1},{"s":"D","i":72.8,"v":84.2},{"s":"D","i":74.4,"v":90.4},{"s":"D","i":75.9,"v":91.2},{"s":"D","i":77.1,"v":86.3},{"s":"D","i":78.4,"v":72.6},{"s":"D","i":79.6,"v":61.5},{"s":"D","i":80.9,"v":59.4},{"s":"D","i":82.1,"v":67.7},{"s":"D","i":83.4,"v":72.6},{"s":"D","i":84.6,"v":69.7},{"s":"D","i":85.8,"v":63.6},{"s":"D","i":87.1,"v":55.3},{"s":"D","i":88.2,"v":46.5},{"s":"D","i":89.2,"v":46.6},{"s":"D","i":90.1,"v":59.0},{"s":"D","i":91.0,"v":73.5},{"s":"D","i":91.9,"v":83.2},{"s":"D","i":92.9,"v":84.0},{"s":"D","i":94.4,"v":80.8},{"s":"D","i":96.0,"v":84.0},{"s":"D","i":97.5,"v":88.1},{"s":"D","i":99.1,"v":86.1},{"s":"D","i":100.7,"v":86.1},{"s":"D","i":102.2,"v":87.3},{"s":"D","i":103.8,"v":87.3},{"s":"D","i":105.3,"v":89.4},{"s":"D","i":106.9,"v":89.0},{"s":"D","i":108.1,"v":75.8},{"s":"D","i":109.4,"v":63.4},{"s":"D","i":110.5,"v":61.4},{"s":"D","i":111.8,"v":69.7},{"s":"D","i":113.1,"v":85.1},{"s":"D","i":114.3,"v":88.4},{"s":"D","i":115.6,"v":90.4},{"s":"D","i":116.8,"v":88.4},{"s":"D","i":118.1,"v":90.4},{"s":"D","i":119.3,"v":92.4},{"s":"D","i":120.5,"v":92.4},{"s":"D","i":121.8,"v":88.4},{"s":"D","i":123.0,"v":80.9},{"s":"D","i":124.3,"v":71.8},{"s":"D","i":125.5,"v":59.4},{"s":"D","i":126.8,"v":45.0},{"s":"D","i":127.9,"v":31.3},{"s":"D","i":128.9,"v":23.1},{"s":"D","i":130.2,"v":22.3},{"s":"D","i":131.4,"v":21.4},{"s":"D","i":132.7,"v":26.4},{"s":"D","i":133.9,"v":34.6},{"s":"D","i":135.1,"v":40.8},{"s":"D","i":136.1,"v":42.1},{"s":"D","i":137.3,"v":42.9},{"s":"D","i":138.6,"v":42.9},{"s":"D","i":139.8,"v":30.5},{"s":"D","i":141.0,"v":20.2},{"s":"D","i":142.3,"v":16.1},{"s":"D","i":143.5,"v":14.8},{"s":"D","i":144.8,"v":14.0},{"s":"D","i":146.0,"v":14.8},{"s":"D","i":147.3,"v":14.0},{"s":"D","i":148.2,"v":11.9},{"s":"D","i":149.1,"v":12.8},{"s":"D","i":149.9,"v":14.0}
],
"macd":[
{"s":"M","i":-9.1,"v":-0.43},{"s":"M","i":-6.6,"v":-0.61},{"s":"M","i":-4.8,"v":-0.88},{"s":"M","i":-2.9,"v":-1.1},{"s":"M","i":-2.0,"v":-1.02},{"s":"M","i":-0.8,"v":-0.7},{"s":"M","i":0.8,"v":-0.75},{"s":"M","i":2.7,"v":-0.89},{"s":"M","i":3.9,"v":-1.07},{"s":"M","i":5.8,"v":-1.21},{"s":"M","i":7.6,"v":-1.56},{"s":"M","i":9.5,"v":-1.61},{"s":"M","i":10.7,"v":-1.69},{"s":"M","i":12.0,"v":-1.56},{"s":"M","i":13.5,"v":-1.07},{"s":"M","i":14.8,"v":-0.8},{"s":"M","i":16.0,"v":-0.7},{"s":"M","i":17.0,"v":-0.61},{"s":"M","i":18.2,"v":-1.29},{"s":"M","i":20.0,"v":-1.96},{"s":"M","i":21.9,"v":-2.31},{"s":"M","i":23.8,"v":-2.37},{"s":"M","i":26.0,"v":-2.42},{"s":"M","i":27.5,"v":-2.23},{"s":"M","i":29.7,"v":-1.91},{"s":"M","i":31.2,"v":-1.51},{"s":"M","i":33.1,"v":-1.16},{"s":"M","i":35.0,"v":-0.75},{"s":"M","i":37.4,"v":-0.61},{"s":"M","i":39.9,"v":-0.48},{"s":"M","i":42.4,"v":-0.48},{"s":"M","i":44.3,"v":-0.61},{"s":"M","i":46.7,"v":-0.75},{"s":"M","i":49.2,"v":-0.61},{"s":"M","i":51.4,"v":-0.53},{"s":"M","i":53.6,"v":-0.48},{"s":"M","i":55.4,"v":-0.21},{"s":"M","i":57.3,"v":0.11},{"s":"M","i":59.1,"v":0.25},{"s":"M","i":61.0,"v":0.41},{"s":"M","i":62.9,"v":0.59},{"s":"M","i":64.7,"v":0.78},{"s":"M","i":66.6,"v":0.81},{"s":"M","i":68.8,"v":0.92},{"s":"M","i":70.6,"v":0.94},{"s":"M","i":72.2,"v":1.08},{"s":"M","i":74.1,"v":1.19},{"s":"M","i":76.2,"v":1.29},{"s":"M","i":77.8,"v":1.13},{"s":"M","i":79.6,"v":1.02},{"s":"M","i":81.5,"v":1.05},{"s":"M","i":83.4,"v":1.0},{"s":"M","i":85.2,"v":0.86},{"s":"M","i":86.8,"v":0.78},{"s":"M","i":88.2,"v":0.8},{"s":"M","i":93.8,"v":0.81},{"s":"M","i":95.1,"v":1.4},{"s":"M","i":96.3,"v":1.94},{"s":"M","i":97.5,"v":2.15},{"s":"M","i":99.1,"v":2.48},{"s":"M","i":100.7,"v":2.53},{"s":"M","i":102.5,"v":2.53},{"s":"M","i":104.4,"v":2.53},{"s":"M","i":106.2,"v":2.4},{"s":"M","i":108.1,"v":2.15},{"s":"M","i":110.0,"v":1.94},{"s":"M","i":111.8,"v":1.88},{"s":"M","i":113.7,"v":2.07},{"s":"M","i":115.6,"v":2.21},{"s":"M","i":117.4,"v":2.21},{"s":"M","i":119.3,"v":2.15},{"s":"M","i":121.8,"v":1.8},{"s":"M","i":123.6,"v":1.62},{"s":"M","i":125.5,"v":1.4},{"s":"M","i":127.4,"v":1.19},{"s":"M","i":129.2,"v":0.92},{"s":"M","i":131.7,"v":0.65},{"s":"M","i":134.2,"v":0.65},{"s":"M","i":136.1,"v":0.54},{"s":"M","i":137.9,"v":0.33},{"s":"M","i":140.4,"v":-0.08},{"s":"M","i":142.3,"v":-0.48},{"s":"M","i":144.2,"v":-0.8},{"s":"M","i":146.0,"v":-0.97},{"s":"M","i":147.9,"v":-1.42},{"s":"M","i":149.8,"v":-1.42},
{"s":"S","i":-9.1,"v":-0.54},{"s":"S","i":-6.6,"v":-0.61},{"s":"S","i":-4.2,"v":-0.8},{"s":"S","i":-1.7,"v":-0.8},{"s":"S","i":0.8,"v":-0.8},{"s":"S","i":3.3,"v":-1.02},{"s":"S","i":5.8,"v":-1.1},{"s":"S","i":8.3,"v":-1.29},{"s":"S","i":10.7,"v":-1.48},{"s":"S","i":13.2,"v":-1.42},{"s":"S","i":15.7,"v":-1.16},{"s":"S","i":17.0,"v":-0.97},{"s":"S","i":18.8,"v":-1.29},{"s":"S","i":21.3,"v":-1.7},{"s":"S","i":23.2,"v":-1.96},{"s":"S","i":25.6,"v":-2.1},{"s":"S","i":28.1,"v":-2.1},{"s":"S","i":31.2,"v":-1.75},{"s":"S","i":34.3,"v":-1.21},{"s":"S","i":37.4,"v":-0.97},{"s":"S","i":40.5,"v":-0.75},{"s":"S","i":43.0,"v":-0.64},{"s":"S","i":45.5,"v":-0.67},{"s":"S","i":48.0,"v":-0.7},{"s":"S","i":50.5,"v":-0.61},{"s":"S","i":53.0,"v":-0.56},{"s":"S","i":55.4,"v":-0.35},{"s":"S","i":57.9,"v":-0.08},{"s":"S","i":60.4,"v":0.25},{"s":"S","i":62.9,"v":0.43},{"s":"S","i":65.4,"v":0.59},{"s":"S","i":67.8,"v":0.73},{"s":"S","i":70.3,"v":0.86},{"s":"S","i":72.8,"v":0.97},{"s":"S","i":75.3,"v":1.13},{"s":"S","i":77.8,"v":1.08},{"s":"S","i":80.3,"v":1.05},{"s":"S","i":82.7,"v":1.05},{"s":"S","i":85.2,"v":0.97},{"s":"S","i":88.2,"v":0.84},{"s":"S","i":93.8,"v":0.81},{"s":"S","i":96.3,"v":1.32},{"s":"S","i":98.8,"v":1.72},{"s":"S","i":101.3,"v":2.15},{"s":"S","i":103.8,"v":2.34},{"s":"S","i":106.2,"v":2.4},{"s":"S","i":108.7,"v":2.21},{"s":"S","i":111.2,"v":2.02},{"s":"S","i":113.7,"v":2.13},{"s":"S","i":116.2,"v":2.15},{"s":"S","i":119.3,"v":2.15},{"s":"S","i":121.8,"v":1.99},{"s":"S","i":124.3,"v":1.8},{"s":"S","i":126.8,"v":1.53},{"s":"S","i":129.2,"v":1.26},{"s":"S","i":131.7,"v":0.99},{"s":"S","i":134.2,"v":0.81},{"s":"S","i":136.7,"v":0.65},{"s":"S","i":139.2,"v":0.46},{"s":"S","i":141.7,"v":0.06},{"s":"S","i":144.2,"v":-0.35},{"s":"S","i":146.6,"v":-0.7},{"s":"S","i":149.8,"v":-1.07}
]
},
"vconcat":[
{
"width":1705,"height":611,
"encoding":{"x":{"field":"i","type":"quantitative","scale":{"domain":[-9.13,179.48],"nice":false,"zero":false},"title":null,"axis":{"values":[0,13,25,34,43,53,62,74,83,93,104,114,124,135,148,158,168,178],"labels":false,"ticks":false,"grid":true,"domain":true,"domainWidth":1.5,"title":null}}},
"layer":[
{"data":{"name":"ohlc"},"mark":{"type":"bar","size":7.5,"clip":true,"opacity":0.5},"encoding":{"y":{"field":"v","type":"quantitative","scale":{"domain":[0,61.1],"nice":false,"zero":false},"axis":null},"y2":{"datum":0},"color":{"condition":{"test":"datum.c >= datum.o","value":"#26a69a"},"value":"#ef5350"}}},
{"layer":[
{"data":{"name":"ma"},"mark":{"type":"line","color":"#f57f20","strokeWidth":2,"clip":true},"encoding":{"y":{"field":"p","type":"quantitative","scale":{"domain":[24.23,50.04],"nice":false,"zero":false},"title":null,"axis":{"orient":"right","values":[26,28,30,32,34,36,38,40,42,44,46,48],"labelExpr":"(datum.value == 36 || datum.value == 38 || datum.value == 42) ? '' : format(datum.value, '.2f')","grid":true,"tickSize":5,"domainWidth":1.5,"labelPadding":3,"labelOverlap":false,"title":null}}}},
{"data":{"name":"levels"},"transform":[{"filter":"datum.k != 'g'"}],"mark":{"type":"rule","strokeWidth":2},"encoding":{"x2":{"field":"i2"},"y":{"field":"p","type":"quantitative","scale":{"domain":[24.23,50.04],"nice":false,"zero":false},"title":null},"color":{"field":"k","type":"nominal","scale":{"domain":["r","g","d"],"range":["#f01c1c","#10ee10","#3d7b1f"]},"legend":null}}},
{"data":{"name":"levels"},"transform":[{"filter":"datum.k == 'g'"}],"mark":{"type":"rule","strokeWidth":1,"strokeDash":[2,2],"color":"#10d810"},"encoding":{"x2":{"field":"i2"},"y":{"field":"p","type":"quantitative","scale":{"domain":[24.23,50.04],"nice":false,"zero":false},"title":null}}},
{"data":{"name":"ohlc"},"mark":{"type":"rule","strokeWidth":1,"clip":true},"encoding":{"y":{"field":"l","type":"quantitative","scale":{"domain":[24.23,50.04],"nice":false,"zero":false},"title":null},"y2":{"field":"h"},"color":{"condition":{"test":"datum.c >= datum.o","value":"#1c8f64"},"value":"#e01818"}}},
{"data":{"name":"ohlc"},"mark":{"type":"bar","size":6,"strokeWidth":1,"clip":true},"encoding":{"y":{"field":"o","type":"quantitative","scale":{"domain":[24.23,50.04],"nice":false,"zero":false},"title":null},"y2":{"field":"c"},"fill":{"condition":{"test":"datum.c >= datum.o","value":"#14e23d"},"value":"#ff1414"},"stroke":{"condition":{"test":"datum.c >= datum.o","value":"#1c8f64"},"value":"#d01818"}}},
{"data":{"values":[{"i":14.99,"i2":76.82,"p":38.93,"p2":35.59},{"i":106.77,"i2":128.86,"p":48.45,"p2":46.78}]},"mark":{"type":"rect","cornerRadius":8,"fill":"#8e4a92","fillOpacity":0.2,"stroke":"#b98cbc","strokeWidth":1,"strokeOpacity":0.6},"encoding":{"x2":{"field":"i2"},"y":{"field":"p","type":"quantitative","scale":{"domain":[24.23,50.04],"nice":false,"zero":false},"title":null},"y2":{"field":"p2"}}},
{"data":{"values":[{"g":1,"i":76.82,"p":37.59,"p2":36.92},{"g":1,"i":92.92,"p":37.26,"p2":37.26},{"g":2,"i":126.83,"p":46.78,"p2":46.78},{"g":2,"i":128.86,"p":46.78,"p2":46.03},{"g":2,"i":137.84,"p":42.74,"p2":42.74}]},"mark":{"type":"area","color":"#8e4a92","opacity":0.2},"encoding":{"y":{"field":"p","type":"quantitative","scale":{"domain":[24.23,50.04],"nice":false,"zero":false},"title":null},"y2":{"field":"p2"},"detail":{"field":"g","type":"nominal"}}},
{"data":{"values":[{"i":16.19,"p":38.15,"t":"it's a broken record, but GAPS GET FILLED.\nA very powerful trading tactic is to target these GAPS\nand use them as support and resistance"},{"i":107.95,"p":47.62,"t":"YIP NEXT TARGET"}]},"mark":{"type":"text","align":"left","baseline":"middle","font":"DejaVu Sans","fontSize":20,"lineHeight":19.8,"lineBreak":"\n","color":"#9b24f0"},"encoding":{"y":{"field":"p","type":"quantitative","scale":{"domain":[24.23,50.04],"nice":false,"zero":false},"title":null},"text":{"field":"t"}}},
{"data":{"values":[{"i":170.45,"p":41.59,"t":"Price target 2"},{"i":170.45,"p":38.56,"t":"Price target 1"},{"i":136.2,"p":35.06,"t":"Gap fill support, perfect bounce"}]},"mark":{"type":"text","align":"center","baseline":"middle","font":"DejaVu Sans","fontSize":20,"fontWeight":"bold","color":"#111111"},"encoding":{"y":{"field":"p","type":"quantitative","scale":{"domain":[24.23,50.04],"nice":false,"zero":false},"title":null},"text":{"field":"t"}}},
{"data":{"values":[{"i":96.85,"p":38.55,"p2":35.68}]},"mark":{"type":"rule","color":"#9b24f0","strokeWidth":1.5},"encoding":{"y":{"field":"p","type":"quantitative","scale":{"domain":[24.23,50.04],"nice":false,"zero":false},"title":null},"y2":{"field":"p2"}}},
{"data":{"values":[{"i":96.3,"p":36.18,"o":1},{"i":96.85,"p":35.68,"o":2},{"i":97.6,"p":36.18,"o":3}]},"mark":{"type":"line","color":"#9b24f0","strokeWidth":1.5},"encoding":{"y":{"field":"p","type":"quantitative","scale":{"domain":[24.23,50.04],"nice":false,"zero":false},"title":null},"order":{"field":"o"}}},
{"data":{"values":[{"i":17,"p":24.9},{"i":95,"p":24.9},{"i":151,"p":24.9}]},"mark":{"type":"point","shape":"circle","size":484,"filled":true,"fill":"#ffffff","stroke":"#e06666","strokeWidth":1,"opacity":1},"encoding":{"y":{"field":"p","type":"quantitative","scale":{"domain":[24.23,50.04],"nice":false,"zero":false},"title":null}}},
{"data":{"values":[{"i":17,"p":24.9},{"i":95,"p":24.9},{"i":151,"p":24.9}]},"mark":{"type":"text","text":"E","font":"Liberation Sans","fontSize":12,"color":"#d9534f","align":"center","baseline":"middle"},"encoding":{"y":{"field":"p","type":"quantitative","scale":{"domain":[24.23,50.04],"nice":false,"zero":false},"title":null}}},
{"data":{"name":"tags"},"mark":{"type":"bar","orient":"horizontal","size":17},"encoding":{"x2":{"field":"i2"},"y":{"field":"p","type":"quantitative","scale":{"domain":[24.23,50.04],"nice":false,"zero":false},"title":null},"color":{"field":"k","type":"nominal","scale":{"domain":["r","g","d"],"range":["#f01c1c","#10ee10","#3d7b1f"]},"legend":null}}},
{"data":{"name":"tags"},"mark":{"type":"text","align":"left","baseline":"middle","dx":8,"font":"Liberation Sans","fontSize":11},"encoding":{"y":{"field":"p","type":"quantitative","scale":{"domain":[24.23,50.04],"nice":false,"zero":false},"title":null},"text":{"field":"t"},"fill":{"field":"k","type":"nominal","scale":{"domain":["r","g","d"],"range":["#ffffff","#1d4a12","#ffffff"]},"legend":null}}}
]}
],
"resolve":{"scale":{"y":"independent"}}
},
{
"width":1705,"height":97,
"encoding":{"x":{"field":"i","type":"quantitative","scale":{"domain":[-9.13,179.48],"nice":false,"zero":false},"title":null,"axis":{"values":[0,13,25,34,43,53,62,74,83,93,104,114,124,135,148,158,168,178],"labels":false,"ticks":false,"grid":true,"domain":true,"domainWidth":1.5,"title":null}}},
"layer":[
{"data":{"values":[{"i":-9.13,"i2":179.3,"p":30,"p2":70}]},"mark":{"type":"rect","fill":"#9900ff","fillOpacity":0.09},"encoding":{"x2":{"field":"i2"},"y":{"field":"p","type":"quantitative","scale":{"domain":[23.1,87.8],"nice":false,"zero":false},"title":null,"axis":{"orient":"right","values":[40,60,80],"format":".4f","grid":true,"tickSize":5,"domainWidth":1.5,"labelPadding":3,"labelOverlap":false,"title":null}},"y2":{"field":"p2"}}},
{"data":{"values":[{"i":-9.13,"i2":179.3,"p":70},{"i":-9.13,"i2":179.3,"p":30}]},"mark":{"type":"rule","color":"#a898b4","strokeWidth":1,"strokeDash":[5,4]},"encoding":{"x2":{"field":"i2"},"y":{"field":"p","type":"quantitative","scale":{"domain":[23.1,87.8],"nice":false,"zero":false},"title":null}}},
{"data":{"name":"rsi"},"mark":{"type":"line","color":"#4aa3d8","strokeWidth":1.2,"clip":true},"encoding":{"y":{"field":"v","type":"quantitative","scale":{"domain":[23.1,87.8],"nice":false,"zero":false},"title":null}}},
{"data":{"values":[{"i":155.5,"i2":175.2,"p":31.8,"p2":50.1}]},"mark":{"type":"rect","fill":"#e8d2fb","stroke":"#111111","strokeWidth":1.5},"encoding":{"x2":{"field":"i2"},"y":{"field":"p","type":"quantitative","scale":{"domain":[23.1,87.8],"nice":false,"zero":false},"title":null},"y2":{"field":"p2"}}},
{"data":{"values":[{"i":165.35,"p":40.8,"t":"turned positive"}]},"mark":{"type":"text","align":"center","baseline":"middle","font":"DejaVu Sans","fontSize":20,"fontWeight":"bold","color":"#9b10f5"},"encoding":{"y":{"field":"p","type":"quantitative","scale":{"domain":[23.1,87.8],"nice":false,"zero":false},"title":null},"text":{"field":"t"}}}
]
},
{
"width":1705,"height":86,
"encoding":{"x":{"field":"i","type":"quantitative","scale":{"domain":[-9.13,179.48],"nice":false,"zero":false},"title":null,"axis":{"values":[0,13,25,34,43,53,62,74,83,93,104,114,124,135,148,158,168,178],"labels":false,"ticks":false,"grid":true,"domain":true,"domainWidth":1.5,"title":null}}},
"layer":[
{"data":{"values":[{"i":-9.13,"i2":179.3,"p":20,"p2":80}]},"mark":{"type":"rect","fill":"#9900ff","fillOpacity":0.2},"encoding":{"x2":{"field":"i2"},"y":{"field":"p","type":"quantitative","scale":{"domain":[-3.3,103.2],"nice":false,"zero":false},"title":null,"axis":{"orient":"right","values":[0,40,80],"format":".4f","grid":true,"tickSize":5,"domainWidth":1.5,"labelPadding":3,"labelOverlap":false,"labelBaseline":{"condition":{"test":"datum.value == 0","value":"bottom"},"value":"middle"},"title":null}},"y2":{"field":"p2"}}},
{"data":{"values":[{"i":-9.13,"i2":179.3,"p":80},{"i":-9.13,"i2":179.3,"p":20}]},"mark":{"type":"rule","color":"#555060","strokeWidth":1,"strokeDash":[6,4]},"encoding":{"x2":{"field":"i2"},"y":{"field":"p","type":"quantitative","scale":{"domain":[-3.3,103.2],"nice":false,"zero":false},"title":null}}},
{"data":{"name":"stoch"},"mark":{"type":"line","strokeWidth":1.3,"clip":true},"encoding":{"y":{"field":"v","type":"quantitative","scale":{"domain":[-3.3,103.2],"nice":false,"zero":false},"title":null},"color":{"field":"s","type":"nominal","scale":{"domain":["K","D"],"range":["#2a8de6","#f0562a"]},"legend":null}}},
{"data":{"values":[{"i":155.5,"i2":175.2,"p":7.4,"p2":40.4}]},"mark":{"type":"rect","fill":"#e8d2fb","stroke":"#111111","strokeWidth":1.5},"encoding":{"x2":{"field":"i2"},"y":{"field":"p","type":"quantitative","scale":{"domain":[-3.3,103.2],"nice":false,"zero":false},"title":null},"y2":{"field":"p2"}}},
{"data":{"values":[{"i":165.35,"p":23.9,"t":"turned positive"}]},"mark":{"type":"text","align":"center","baseline":"middle","font":"DejaVu Sans","fontSize":20,"fontWeight":"bold","color":"#9b10f5"},"encoding":{"y":{"field":"p","type":"quantitative","scale":{"domain":[-3.3,103.2],"nice":false,"zero":false},"title":null},"text":{"field":"t"}}}
]
},
{
"width":1705,"height":72,
"encoding":{"x":{"field":"i","type":"quantitative","scale":{"domain":[-9.13,179.48],"nice":false,"zero":false},"title":null,"axis":{"values":[0,13,25,34,43,53,62,74,83,93,104,114,124,135,148,158,168,178],"labels":true,"ticks":true,"tickSize":4,"grid":true,"domain":true,"domainWidth":1.5,"labelFontSize":12,"labelPadding":4,"labelOverlap":false,"labelFlush":false,"title":null,"labelExpr":"datum.value==0?'15':datum.value==13?'Nov':datum.value==25?'19':datum.value==34?'Dec':datum.value==43?'17':datum.value==53?'2019':datum.value==62?'15':datum.value==74?'Feb':datum.value==83?'14':datum.value==93?'Mar':datum.value==104?'18':datum.value==114?'Apr':datum.value==124?'15':datum.value==135?'May':datum.value==148?'20':datum.value==158?'Jun':datum.value==168?'17':'Jul'"}}},
"layer":[
{"data":{"name":"ohlc"},"transform":[{"window":[{"op":"lag","field":"m","as":"pm"}],"sort":[{"field":"i"}]},{"calculate":"datum.m >= 0 ? ((datum.pm == null || datum.m >= datum.pm) ? 'a' : 'b') : ((datum.pm == null || datum.m <= datum.pm) ? 'c' : 'd')","as":"cls"}],"mark":{"type":"bar","size":7,"clip":true},"encoding":{"y":{"field":"m","type":"quantitative","scale":{"domain":[-2.82,2.94],"nice":false,"zero":false},"title":null,"axis":{"orient":"right","values":[-2.5,0,2.5],"labels":false,"grid":true,"tickSize":5,"domainWidth":1.5,"title":null}},"y2":{"datum":0},"color":{"field":"cls","type":"nominal","scale":{"domain":["a","b","c","d"],"range":["#26a69a","#b2dfdb","#ef5350","#ffcdd2"]},"legend":null}}},
{"data":{"name":"macd"},"mark":{"type":"line","strokeWidth":1.3,"clip":true},"encoding":{"y":{"field":"v","type":"quantitative","scale":{"domain":[-2.82,2.94],"nice":false,"zero":false},"title":null},"stroke":{"field":"s","type":"nominal","scale":{"domain":["M","S"],"range":["#2196f3","#ff9800"]},"legend":null}}},
{"data":{"values":[{"i":179.48,"v":2.5,"t":"2.50"},{"i":179.48,"v":0,"t":"0.00"},{"i":179.48,"v":-2.5,"t":"\u22122.50"}]},"mark":{"type":"text","align":"left","baseline":"middle","dx":8,"font":"Liberation Sans","fontSize":11,"color":"#4a4a4a"},"encoding":{"y":{"field":"v","type":"quantitative","scale":{"domain":[-2.82,2.94],"nice":false,"zero":false},"title":null},"text":{"field":"t"}}}
],
"resolve":{"scale":{"color":"independent","stroke":"independent"}}
}
]
}
